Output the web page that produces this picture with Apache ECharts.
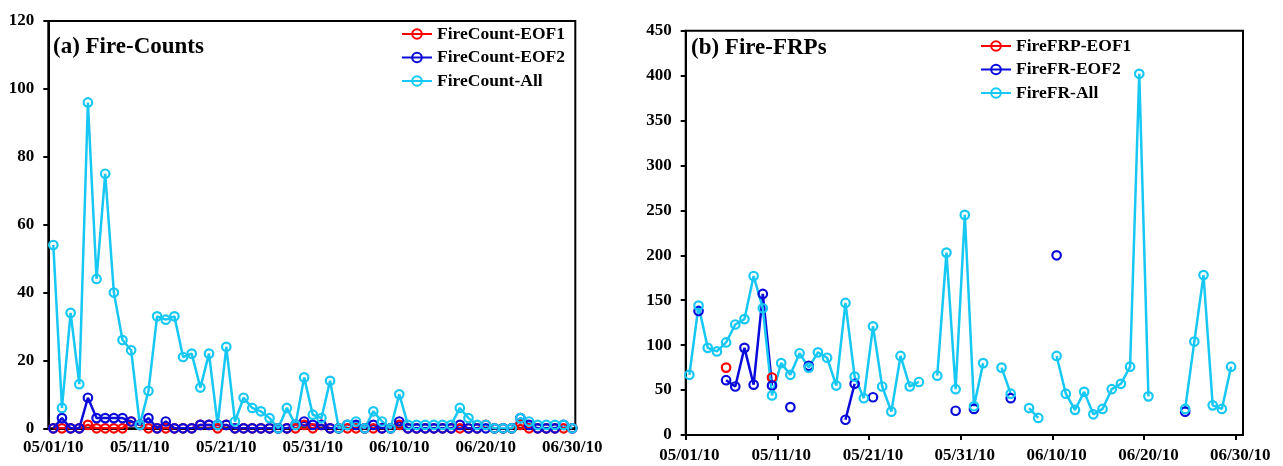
<!DOCTYPE html>
<html>
<head>
<meta charset="utf-8">
<script src="https://cdn.jsdelivr.net/npm/echarts@6/dist/echarts.min.js"></script>
<style>
  html, body { margin: 0; padding: 0; background: #fff; }
  #chart { width: 1283px; height: 466px; }
</style>
</head>
<body>
<div id="chart"></div>
<script>
// Daily series, 05/01/10 .. 06/30/10 (index = day number)
const tickDays   = [0, 10, 20, 30, 40, 50, 60];
const tickLabels = ['05/01/10', '05/11/10', '05/21/10', '05/31/10', '06/10/10', '06/20/10', '06/30/10'];

// (a) daily fire counts
const countEOF1 = [0,0,0,0,1,0,0,0,0,2, 1,0,0,0,0,0,0,1,1,0, 1,0,0,0,0,0,0,0,0,1, 0,1,0,0,0,0,0,0,0,0, 1,0,0,0,0,0,0,0,0,0, 1,0,0,0,1,0,0,0,0,0, 0];
const countEOF2 = [0,3,0,0,9,3,3,3,3,2, 1,3,0,2,0,0,0,1,1,1, 1,0,0,0,0,0,0,0,1,2, 1,1,0,0,1,1,0,1,0,0, 2,0,0,0,0,0,0,1,0,0, 0,0,0,0,3,1,0,0,0,1, 0];
const countAll  = [54,6,34,13,96,44,75,40,26,23, 1,11,33,32,33,21,22,12,22,1, 24,2,9,6,5,3,0,6,1,15, 4,3,14,0,1,2,0,5,2,0, 10,1,1,1,1,1,1,6,3,1, 1,0,0,0,3,2,1,1,1,1, 0];

// (b) daily mean fire radiative power (null = no fires that day)
const frpEOF1 = [null,null,null,null,75,null,null,null,null,64, null,null,null,null,null,null,null,null,null,null, null,null,null,null,null,null,null,null,null,null, null,null,null,null,null,null,null,null,null,null, null,null,null,null,null,null,null,null,null,null, null,null,null,null,null,null,null,null,null,null, null];
const frpEOF2 = [null,138,null,null,61,54,97,56,157,55, null,31,null,77,null,null,null,17,57,null, 42,null,null,null,null,null,null,null,null,27, null,29,null,null,null,41,null,null,null,null, 200,null,null,null,null,null,null,null,null,null, null,null,null,null,26,null,null,null,null,null, null];
const frpAll  = [67,144,97,93,103,123,129,177,141,44, 80,67,91,75,92,86,55,147,65,41, 121,54,26,88,54,59,null,66,203,51, 245,32,80,null,75,46,null,30,19,null, 88,46,28,48,23,29,51,57,76,402, 43,null,null,null,29,104,178,33,29,76, null];

const RED = '#FF0000', BLUE = '#0A0ADB', CYAN = '#17C7F4';
const FONT = '"Liberation Serif", "Times New Roman", serif';

function toPoints(arr) { return arr.map((v, i) => [i, v]); }

function lineSeries(name, arr, color, axis) {
  return {
    name, type: 'line',
    xAxisIndex: axis, yAxisIndex: axis,
    data: toPoints(arr),
    symbol: 'circle', symbolSize: 8.5, showAllSymbol: true,
    connectNulls: false,
    itemStyle: { color: 'transparent', borderColor: color, borderWidth: 2.2 },
    lineStyle: { color, width: 2.5 },
    emphasis: { disabled: true },
    animation: false
  };
}

const labelStyle = { color: '#000', fontFamily: FONT, fontWeight: 'bold', fontSize: 17 };
const axisLine = { show: true, onZero: false, lineStyle: { color: '#000', width: 2 } };

const chart = echarts.init(document.getElementById('chart'), null, { renderer: 'canvas' });
chart.setOption({
  backgroundColor: '#fff',
  animation: false,
  title: [
    { text: '(a) Fire-Counts', left: 53, top: 36, padding: 0,
      textStyle: { fontFamily: FONT, fontWeight: 'bold', fontSize: 23, color: '#000' } },
    { text: '(b) Fire-FRPs', left: 691, top: 37, padding: 0,
      textStyle: { fontFamily: FONT, fontWeight: 'bold', fontSize: 23, color: '#000' } }
  ],
  legend: [
    { orient: 'vertical', left: 401, top: 25, padding: 0, itemWidth: 30, itemHeight: 12, itemGap: 5.5,
      data: ['FireCount-EOF1', 'FireCount-EOF2', 'FireCount-All'],
      textStyle: { fontFamily: FONT, fontWeight: 'bold', fontSize: 17.5, color: '#000', lineHeight: 18 } },
    { orient: 'vertical', left: 980, top: 37, padding: 0, itemWidth: 30, itemHeight: 12, itemGap: 5.5,
      data: ['FireFRP-EOF1', 'FireFR-EOF2', 'FireFR-All'],
      textStyle: { fontFamily: FONT, fontWeight: 'bold', fontSize: 17.5, color: '#000', lineHeight: 18 } }
  ],
  grid: [
    { left: 48.3, top: 21, width: 527, height: 407.3, show: true, borderColor: '#000', borderWidth: 2 },
    { left: 685.7, top: 30.7, width: 557.3, height: 404.3, show: true, borderColor: '#000', borderWidth: 2 }
  ],
  xAxis: [
    { type: 'value', gridIndex: 0, min: -0.58, max: 60.35,
      axisLine, splitLine: { show: false },
      axisTick: { show: false },
      axisLabel: Object.assign({ customValues: tickDays, margin: 11,
        formatter: v => tickLabels[tickDays.indexOf(Math.round(v))] || '' }, labelStyle) },
    { type: 'value', gridIndex: 1, min: -0.4, max: 60.3,
      axisLine, splitLine: { show: false },
      axisTick: { show: true, inside: false, length: 5, lineStyle: { color: '#000', width: 2 },
        customValues: tickDays.map(d => d - 0.4 + d * -0.0017) },
      axisLabel: Object.assign({ customValues: tickDays, margin: 12,
        formatter: v => tickLabels[tickDays.indexOf(Math.round(v))] || '' }, labelStyle) }
  ],
  yAxis: [
    { type: 'value', gridIndex: 0, min: 0, max: 120, interval: 20,
      axisLine, splitLine: { show: false },
      axisTick: { show: true, inside: false, length: 5, lineStyle: { color: '#000', width: 2 } },
      axisLabel: Object.assign({ margin: 14 }, labelStyle) },
    { type: 'value', gridIndex: 1, min: 0, max: 450, interval: 50,
      axisLine, splitLine: { show: false },
      axisTick: { show: true, inside: false, length: 5, lineStyle: { color: '#000', width: 2 } },
      axisLabel: Object.assign({ margin: 14 }, labelStyle) }
  ],
  series: [
    lineSeries('FireCount-EOF1', countEOF1, RED, 0),
    lineSeries('FireCount-EOF2', countEOF2, BLUE, 0),
    lineSeries('FireCount-All', countAll, CYAN, 0),
    lineSeries('FireFRP-EOF1', frpEOF1, RED, 1),
    lineSeries('FireFR-EOF2', frpEOF2, BLUE, 1),
    lineSeries('FireFR-All', frpAll, CYAN, 1)
  ]
});
</script>
</body>
</html>
